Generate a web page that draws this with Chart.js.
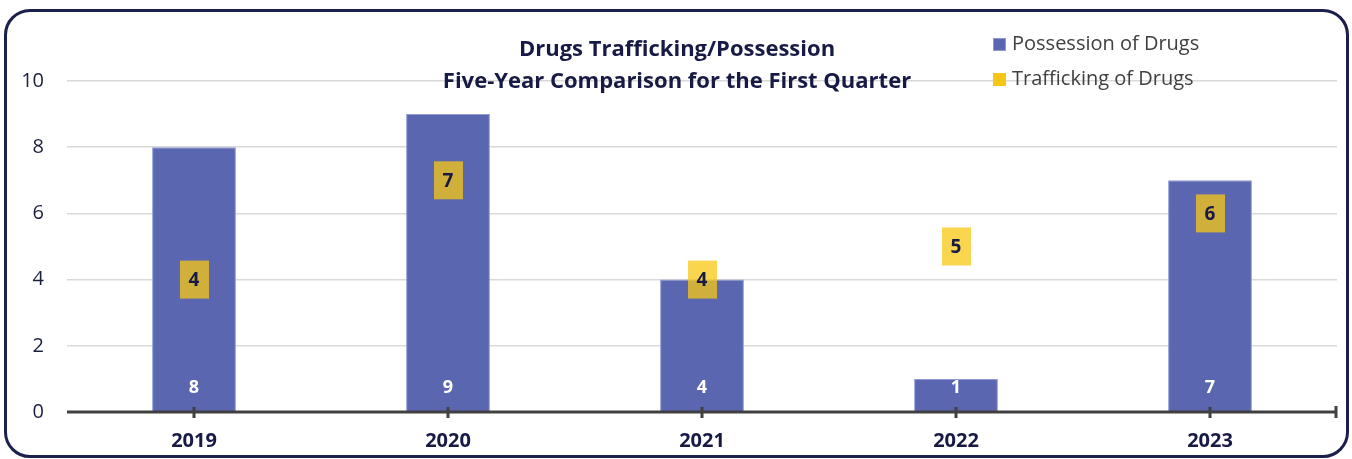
<!DOCTYPE html>
<html>
<head>
<meta charset="utf-8">
<script src="https://cdn.jsdelivr.net/npm/chart.js@4.4.0/dist/chart.umd.min.js"></script>
<style>
  html, body { margin: 0; padding: 0; background: #fff; }
  #wrap { position: relative; width: 1352px; height: 459px; overflow: hidden; font-family: "Open Sans", sans-serif; }
  #frame { position: absolute; left: 4px; top: 9px; width: 1345px; height: 449px; box-sizing: border-box;
           border: 3px solid #1a1f4b; border-radius: 26px; pointer-events: none; }
  #title { position: absolute; left: 327px; width: 700px; top: 31px; text-align: center; color: #161a45;
           font-weight: bold; font-size: 22px; line-height: 32px; }
  #legend { position: absolute; left: 993px; top: 25px; color: #404040; font-size: 20px; line-height: 35px; }
  #legend span.sw { display: inline-block; width: 13px; height: 13px; margin-right: 6px; vertical-align: -1px; }
  canvas { position: absolute; left: 0; top: 0; }
</style>
</head>
<body>
<div id="wrap">
  <canvas id="barChart" width="1352" height="459"></canvas>
  <div id="title">Drugs Trafficking/Possession<br>Five-Year Comparison for the First Quarter</div>
  <div id="legend">
    <div><span class="sw" style="background:#5a67b0;border:1px solid #8f9ad6;box-sizing:border-box"></span>Possession of Drugs</div>
    <div><span class="sw" style="background:#f5c518"></span>Trafficking of Drugs</div>
  </div>
  <div id="frame"></div>
</div>
<script>
var years = ['2019', '2020', '2021', '2022', '2023'];
var possession = [8, 9, 4, 1, 7];
var trafficking = [4, 7, 4, 5, 6];
var yTicks = [0, 2, 4, 6, 8, 10];

var labelPlugin = {
    id: 'labelPlugin',
    afterDatasetsDraw: function(chart) {
        var ctx = chart.ctx;
        var x = chart.scales.x, y = chart.scales.y;
        var area = chart.chartArea;
        var y0 = y.getPixelForValue(0);

        // zero axis with tick marks
        ctx.save();
        ctx.strokeStyle = '#404040';
        ctx.lineWidth = 3;
        ctx.beginPath();
        ctx.moveTo(area.left, y0);
        ctx.lineTo(area.right, y0);
        ctx.stroke();
        ctx.beginPath();
        years.forEach(function(_, i) {
            var px = x.getPixelForValue(i);
            ctx.moveTo(px, y0 - 5);
            ctx.lineTo(px, y0 + 6);
        });
        ctx.moveTo(area.right - 1, y0 - 6);
        ctx.lineTo(area.right - 1, y0 + 6);
        ctx.stroke();

        // bar value labels
        ctx.fillStyle = '#ffffff';
        ctx.font = 'bold 18px "Open Sans"';
        ctx.textAlign = 'center';
        ctx.textBaseline = 'middle';
        possession.forEach(function(v, i) {
            ctx.fillText(v, x.getPixelForValue(i), y0 - 24);
        });

        // trafficking boxes
        var meta = chart.getDatasetMeta(1);
        meta.data.forEach(function(pt, i) {
            ctx.fillStyle = 'rgba(248, 200, 20, 0.75)';
            ctx.fillRect(pt.x - 14, pt.y - 19, 29, 38);
            ctx.fillStyle = '#161a45';
            ctx.font = 'bold 19px "Open Sans"';
            ctx.fillText(trafficking[i], pt.x, pt.y + 1);
        });
        ctx.restore();
    }
};

var ctx = document.getElementById('barChart').getContext('2d');
var barChart = new Chart(ctx, {
    type: 'bar',
    data: {
        labels: years,
        datasets: [{
            label: 'Possession of Drugs',
            data: possession,
            backgroundColor: '#5a67b0',
            borderColor: '#8f9ad6',
            borderWidth: 1,
            barPercentage: 0.33,
            categoryPercentage: 1
        }, {
            type: 'line',
            label: 'Trafficking of Drugs',
            data: trafficking,
            showLine: false,
            pointRadius: 0,
            pointHoverRadius: 0,
            borderColor: '#f5c518',
            backgroundColor: '#f5c518'
        }]
    },
    options: {
        responsive: false,
        animation: false,
        layout: { padding: { top: 81, right: 15, left: 0, bottom: 0 } },
        plugins: {
            legend: { display: false },
            tooltip: { enabled: false }
        },
        scales: {
            x: {
                grid: { display: false, drawTicks: false },
                border: { display: false },
                ticks: { color: '#161a45', font: { family: 'Open Sans', size: 20, weight: 'bold' }, padding: 17 },
                afterFit: function(s) { s.height = 47; }
            },
            y: {
                min: 0,
                max: 10,
                afterBuildTicks: function(s) { s.ticks = yTicks.map(function(v) { return { value: v }; }); },
                grid: {
                    drawTicks: false,
                    lineWidth: 1.5,
                    color: function(c) { return c.tick && c.tick.value === 0 ? 'rgba(0,0,0,0)' : '#d9d9d9'; }
                },
                border: { display: false },
                ticks: { color: '#1a1f3f', font: { family: 'Open Sans', size: 20 }, padding: 23 },
                afterFit: function(s) { s.width = 67; }
            }
        }
    },
    plugins: [labelPlugin]
});
</script>
</body>
</html>
